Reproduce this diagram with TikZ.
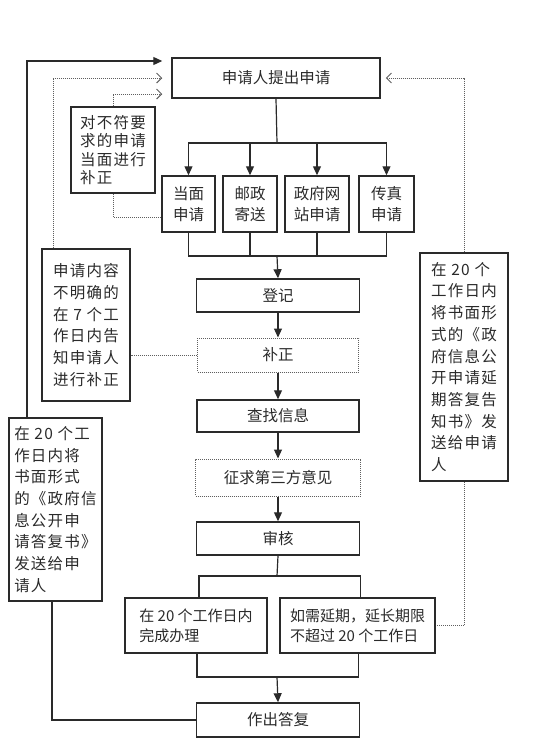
\documentclass[tikz,border=0pt]{standalone}
\usepackage{fontspec}
\newfontfamily\cjk{Noto Sans CJK SC}
\newfontfamily\cjkw[LetterSpace=8]{Noto Sans CJK SC}
\usetikzlibrary{arrows.meta}
\definecolor{ink}{HTML}{2A2A2A}
\begin{document}
\begin{tikzpicture}[x=1pt,y=-1pt,
  font={\cjk\fontsize{15.5}{21.7}\selectfont},
  line width=1.2pt, draw=ink, text=ink,
  >={Triangle[length=9pt,width=8pt]},
  opn/.style={-{Straight Barb[length=5pt,width=10pt,line width=1pt]}},
  dots/.style={dash pattern=on 1pt off 1pt, line width=1pt, draw=ink!75},
  box/.style={draw, line width=1.5pt, align=center, inner sep=3pt},
  dbox/.style={box, dots},
  note/.style={box, align=left, font={\cjkw\fontsize{15.5}{21.7}\selectfont}}]
\useasboundingbox (0,0) rectangle (537,750);
\node[box, minimum width=208, minimum height=40] (top) at (276,78) {申请人提出申请};
\node[box, minimum width=53, minimum height=56] (dm) at (188.5,204) {当面\\申请};
\node[box, minimum width=54, minimum height=56] (yz) at (250,204) {邮政\\寄送};
\node[box, minimum width=64, minimum height=56] (zf) at (317,204) {政府网\\站申请};
\node[box, minimum width=55, minimum height=56] (cz) at (386.5,204) {传真\\申请};
\node[box, minimum width=163, minimum height=33] (dj) at (278,295.5) {登记};
\node[dbox, minimum width=161, minimum height=34] (bz) at (278,355) {补正};
\node[box, minimum width=162, minimum height=32] (cx) at (278,416) {查找信息};
\node[dbox, minimum width=165, minimum height=37] (zq) at (278,477.5) {征求第三方意见};
\node[box, minimum width=163, minimum height=33] (sh) at (278,538.5) {审核};
\node[box, align=left, minimum width=142, minimum height=55, font={\cjk\fontsize{15}{20}\selectfont}] (wc) at (196,625.5) {在 20 个工作日内\\完成办理};
\node[box, align=left, minimum width=155, minimum height=55, font={\cjk\fontsize{15}{20}\selectfont}] (yq) at (357.5,625.5) {如需延期，延长期限\\不超过 20 个工作日};
\node[box, minimum width=163, minimum height=34] (df) at (278,720) {作出答复};
\node[note, minimum width=84, minimum height=86, font={\cjkw\fontsize{15.5}{18.3}\selectfont}] (fh) at (113,150) {对不符要\\求的申请\\当面进行\\补正};
\node[note, minimum width=88, minimum height=152] (bm) at (86,325) {申请内容\\不明确的\\在 7 个工\\作日内告\\知申请人\\进行补正};
\node[note, minimum width=93, minimum height=183] (fs) at (55.5,509.5) {在 20 个工\\作日内将\\书面形式\\的《政府信\\息公开申\\请答复书》\\发送给申\\请人};
\node[note, minimum width=88, minimum height=228] (yf) at (464,367) {在 20 个\\工作日内\\将书面形\\式的《政\\府信息公\\开申请延\\期答复告\\知书》发\\送给申请\\人};
\coordinate (fork1) at (277,143);
\coordinate (join1) at (277,256);
\coordinate (fork2) at (277,576);
\coordinate (join2) at (277,677);
\draw (top.south) -- (fork1);
\foreach \n in {dm,yz,zf,cz} {
  \draw[->] (fork1) -| (\n.north);
  \draw (\n.south) |- (join1);
}
\draw[->] (join1) -- (dj.north);
\draw[->] (dj.south) -- (bz.north);
\draw[->] (bz.south) -- (cx.north);
\draw[->] (cx.south) -- (zq.north);
\draw[->] (zq.south) -- (sh.north);
\draw (sh.south) -- (fork2);
\foreach \n in {wc,yq} {
  \draw (fork2) -| ([xshift=3pt]\n.north);
  \draw ([xshift=1pt]\n.south) |- (join2);
}
\draw[->] (join2) -- (df.north);
\draw[dots] (fh.south) |- ([yshift=-13pt]dm.west);
\draw[dots,opn] (fh.north) |- ([xshift=-9pt,yshift=-16pt]top.west);
\draw[dots,opn] ([xshift=-33pt]bm.north) |- ([xshift=-9pt]top.west);
\draw[dots] (bz.west) -- (bz.west -| bm.east);
\draw[->] ([xshift=-28.5pt]fs.north) |- ([xshift=-9pt,yshift=17pt]top.west);
\draw ([xshift=-3.5pt]fs.south) |- (df.west);
\draw[dots,opn] (yf.north) |- ([xshift=5pt]top.east);
\draw[dots] (yf.south) |- (yq.east);
\end{tikzpicture}
\end{document}
